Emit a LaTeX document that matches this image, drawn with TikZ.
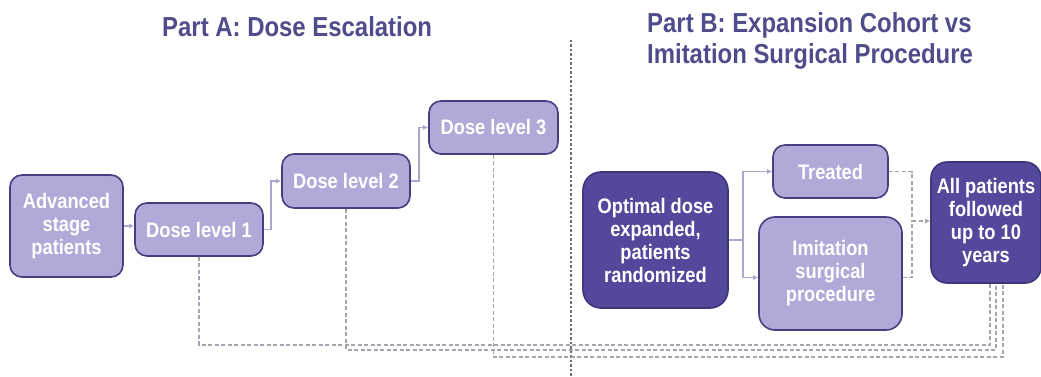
\documentclass[tikz,border=0pt]{standalone}
\usepackage{fontspec}
\setmainfont[FakeStretch=0.87]{Liberation Sans}
\usetikzlibrary{arrows.meta}
\definecolor{lightfill}{RGB}{177,169,215}
\definecolor{darkfill}{RGB}{83,72,155}
\definecolor{boxborder}{RGB}{70,62,128}
\definecolor{darkborder}{RGB}{62,54,122}
\definecolor{titlecol}{RGB}{80,76,140}
\definecolor{solidcol}{RGB}{172,167,204}
\definecolor{dashcol}{RGB}{165,165,176}
\definecolor{divcol}{RGB}{110,110,125}
\tikzset{
  lbox/.style={draw=boxborder, fill=lightfill, line width=1.6pt, rounded corners=12pt,
    text=white, font=\bfseries\fontsize{21}{23}\selectfont, align=center, inner sep=0pt},
  dbox/.style={lbox, draw=darkborder, fill=darkfill, rounded corners=18pt},
  arr/.style={draw=solidcol, line width=1.8pt, -{Latex[length=5pt,width=5pt]}},
  sline/.style={draw=solidcol, line width=1.8pt},
  dline/.style={draw=dashcol, line width=1.5pt, dash pattern=on 4pt off 2.5pt},
  darr/.style={dline, -{Latex[length=5pt,width=5pt]}},
  divline/.style={draw=divcol, line width=1.6pt, dash pattern=on 2.5pt off 2pt},
  title/.style={text=titlecol, font=\bfseries\fontsize{27.5}{30}\selectfont, inner sep=0pt, anchor=base west}
}
\begin{document}
\begin{tikzpicture}[x=1pt,y=-1pt]
\useasboundingbox[fill=white] (0,0) rectangle (1041,377);

% titles
\node[title] (ta) at (162,37) {Part A: Dose Escalation};
\node[title] (tb1) at (647,33) {Part B: Expansion Cohort vs};
\node[title] (tb2) at (647,64) {Imitation Surgical Procedure};

% divider
\draw[divline] (571,40) -- (571,377);

% Part A boxes
\node[lbox, minimum width=113pt, minimum height=102pt] (adv) at (66.5,226) {Advanced\\stage\\patients};
\node[lbox, minimum width=128pt, minimum height=53pt] (d1) at (199,229.5) {Dose level 1};
\node[lbox, minimum width=128pt, minimum height=54pt] (d2) at (346,181) {Dose level 2};
\node[lbox, minimum width=129pt, minimum height=53pt] (d3) at (493.5,127.5) {Dose level 3};

% Part B boxes
\node[dbox, minimum width=145pt, minimum height=136pt] (opt) at (655.5,240) {Optimal dose\\expanded,\\patients\\randomized};
\node[lbox, minimum width=115pt, minimum height=53pt] (treat) at (830.5,171.5) {Treated};
\node[lbox, rounded corners=16pt, minimum width=143pt, minimum height=113pt] (imit) at (830.5,273.5) {Imitation\\surgical\\procedure};
\node[dbox, rounded corners=16pt, minimum width=110pt, minimum height=121pt] (all) at (986,222.5) {All patients\\followed\\up to 10\\years};

% solid connectors Part A
\draw[arr] (adv.east) -- (adv.east -| d1.west);
\draw[arr] (d1.east) -- ++(7,0) |- (d2.west);
\draw[arr] (d2.east) -- ++(8,0) |- (d3.west);

% solid connectors Part B
\coordinate (br) at (743,240);
\draw[sline] (opt.east) -- (br);
\draw[arr] (br) |- (treat.west);
\draw[arr] (br) |- ([yshift=-4pt]imit.west);

% dashed merge into All patients
\coordinate (mg) at (912,221);
\draw[dline] (treat.east) -| (mg);
\draw[dline] ([yshift=-4pt]imit.east) -| (mg);
\draw[darr] (mg) -- (mg -| all.west);

% dashed follow-up lines
\coordinate (j1) at ([xshift=4pt]all.south);
\coordinate (j2) at ([xshift=10pt]all.south);
\coordinate (j3) at ([xshift=17pt]all.south);
\draw[dline] (d1.south) |- (j1 |- 0,345) -- (j1);
\draw[dline] (d2.south) |- (j2 |- 0,350) -- (j2);
\draw[dline] (d3.south) |- (j3 |- 0,357) -- (j3);
\end{tikzpicture}
\end{document}
